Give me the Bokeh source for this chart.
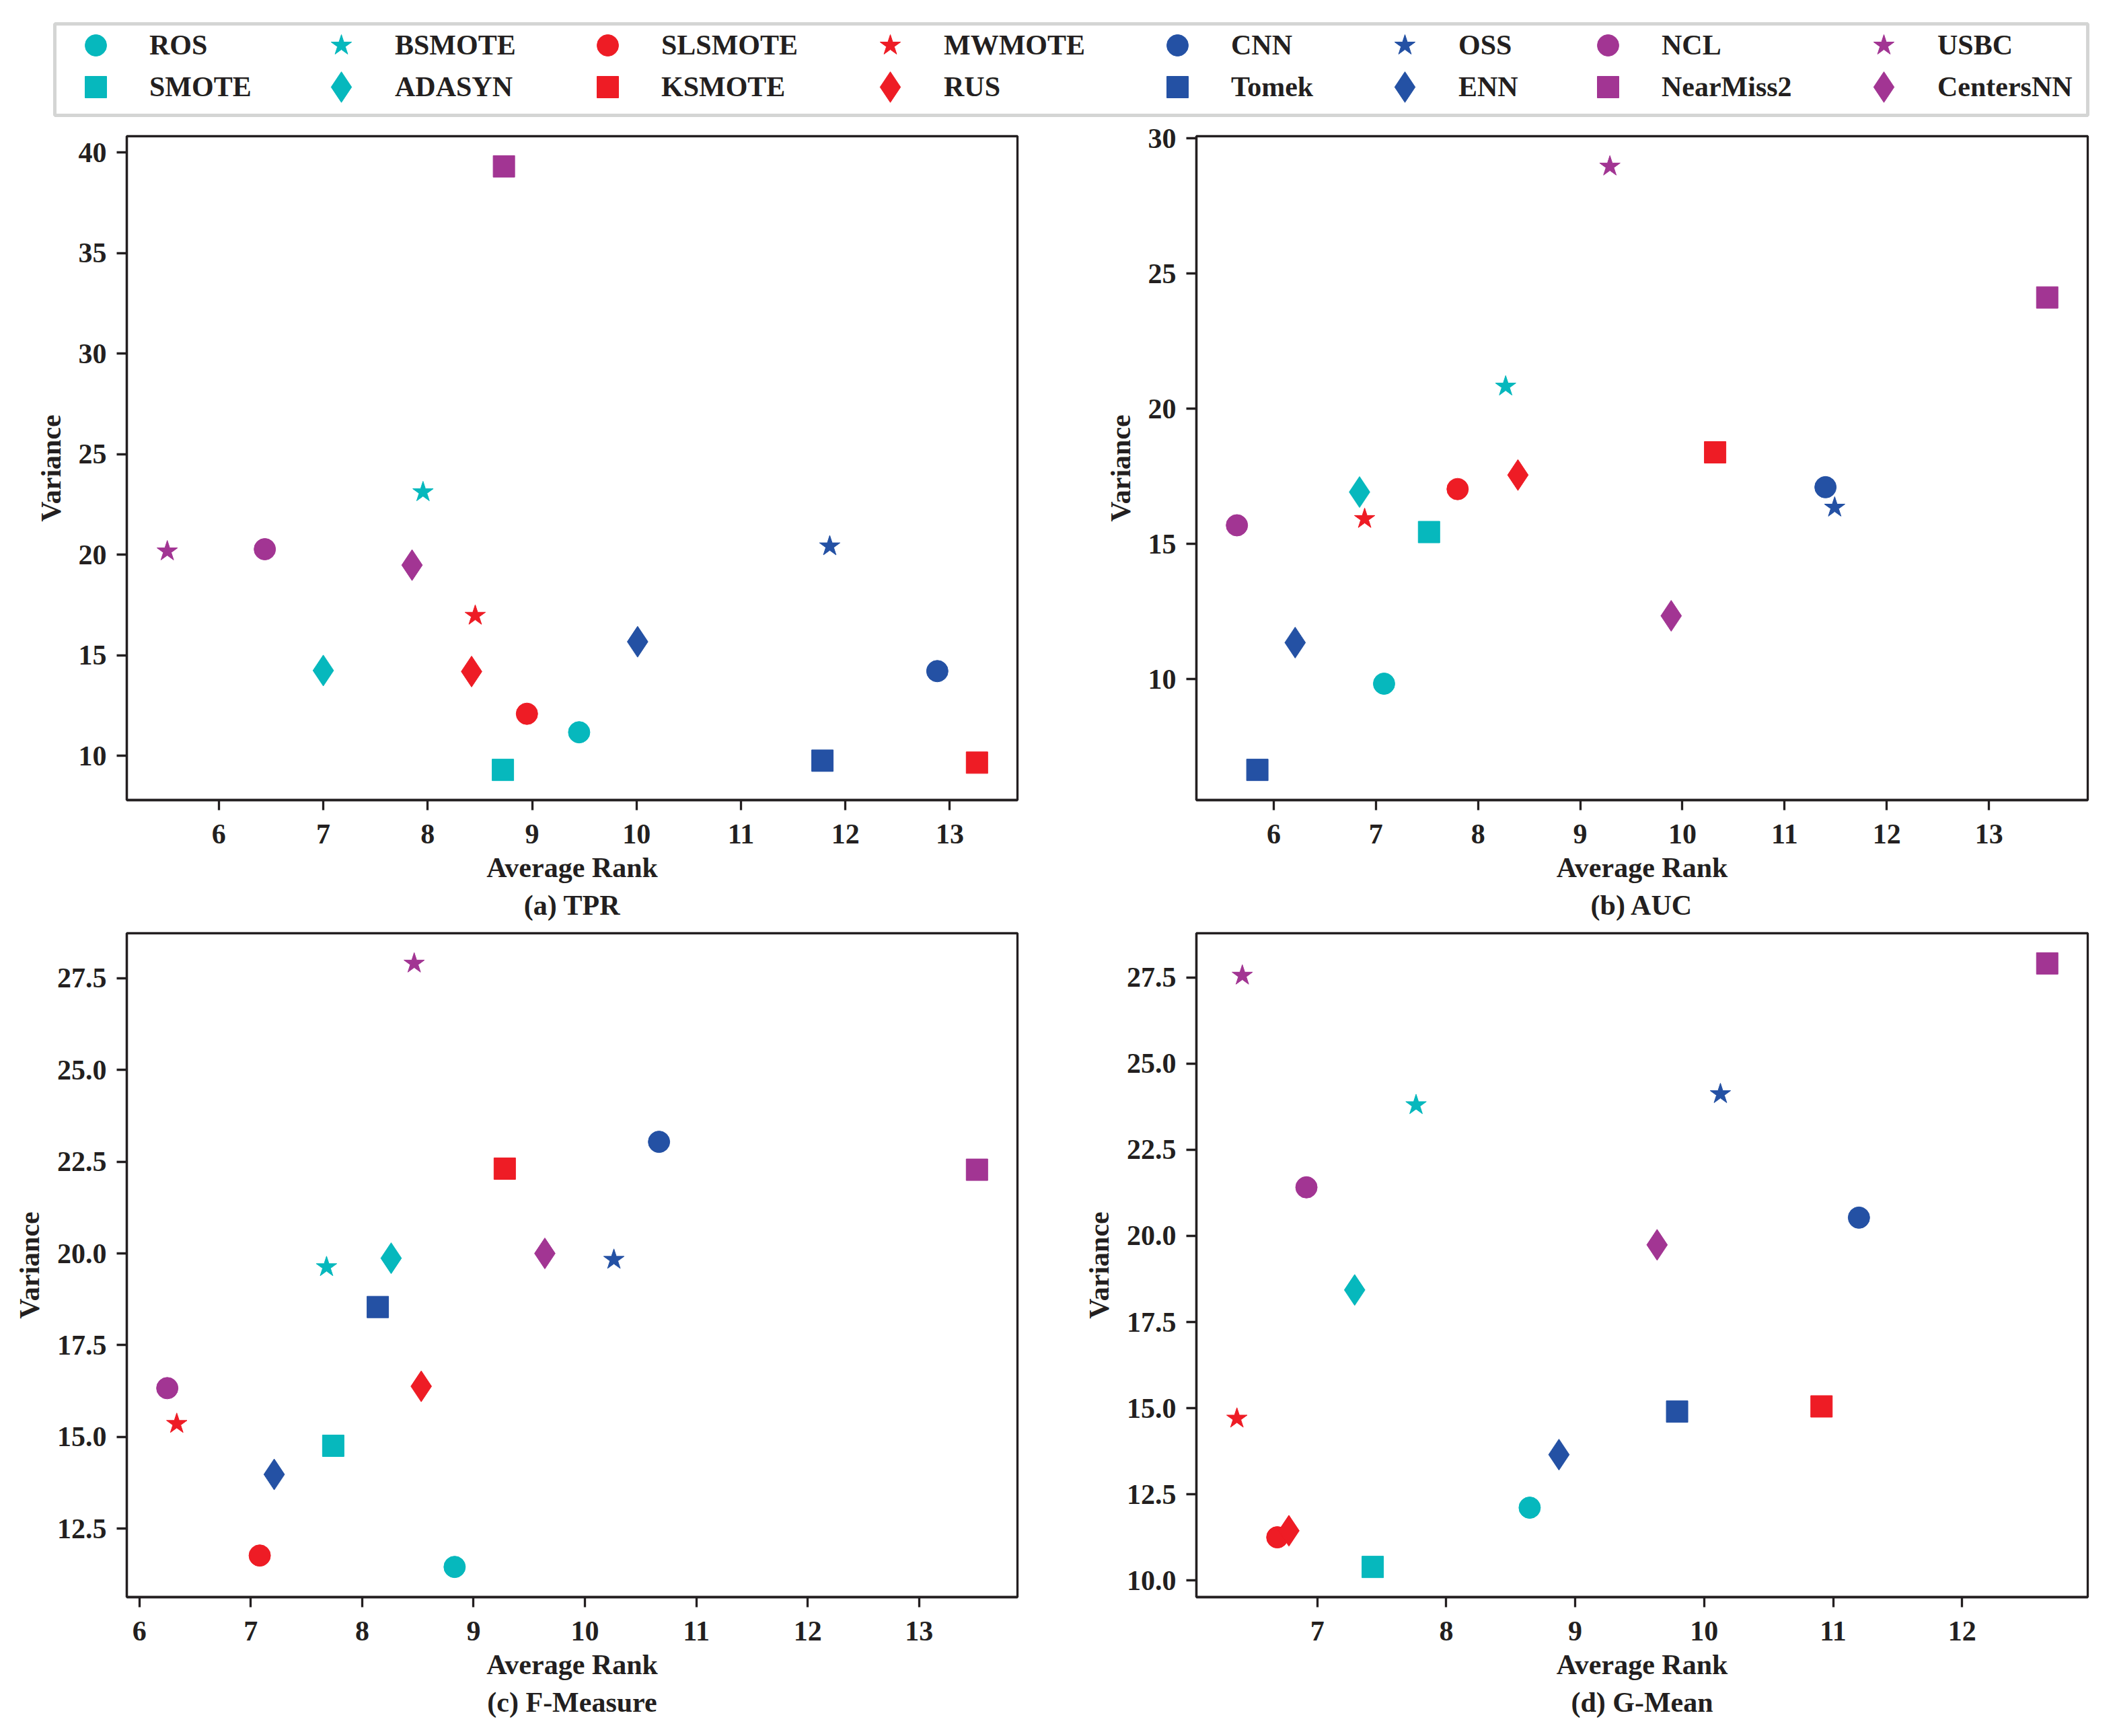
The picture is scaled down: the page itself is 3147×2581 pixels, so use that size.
from bokeh.plotting import figure
from bokeh.models import Range1d, FixedTicker, PrintfTickFormatter, Legend, LegendItem, Title, ColumnDataSource
from bokeh.layouts import column, row
from bokeh.embed import file_html
from bokeh.resources import INLINE

methods = ["ROS", "SMOTE", "BSMOTE", "ADASYN", "SLSMOTE", "KSMOTE", "MWMOTE", "RUS",
           "CNN", "Tomek", "OSS", "ENN", "NCL", "NearMiss2", "USBC", "CentersNN"]

tpr_rank = [9.45, 8.72, 7.955, 7.00, 8.95, 13.26, 8.455, 8.42,
            12.88, 11.78, 11.85, 10.01, 6.44, 8.73, 5.506, 7.85]
tpr_var = [11.18, 9.31, 23.12, 14.25, 12.10, 9.67, 16.98, 14.20,
           14.22, 9.77, 20.43, 15.68, 20.28, 39.31, 20.18, 19.49]

auc_rank = [7.08, 7.52, 8.27, 6.84, 7.80, 10.32, 6.89, 8.39,
            11.40, 5.84, 11.49, 6.21, 5.64, 13.57, 9.29, 9.89]
auc_var = [9.83, 15.44, 20.83, 16.92, 17.03, 18.39, 15.93, 17.55,
           17.10, 6.64, 16.35, 11.35, 15.69, 24.12, 28.97, 12.34]

fm_rank = [8.83, 7.74, 7.68, 8.26, 7.08, 9.28, 6.335, 8.53,
           10.665, 8.14, 10.26, 7.21, 6.25, 13.52, 8.467, 9.64]
fm_var = [11.46, 14.76, 19.63, 19.87, 11.77, 22.31, 15.36, 16.38,
          23.04, 18.54, 19.83, 13.98, 16.33, 22.28, 27.90, 20.00]

gm_rank = [8.647, 7.43, 7.766, 7.29, 6.69, 10.91, 6.377, 6.78,
           11.20, 9.79, 10.126, 8.874, 6.916, 12.66, 6.419, 9.635]
gm_var = [12.11, 10.39, 23.80, 18.43, 11.25, 15.05, 14.70, 11.44,
          20.53, 14.90, 24.12, 13.65, 21.41, 27.91, 27.56, 19.74]

x_ticks_abc = [6, 7, 8, 9, 10, 11, 12, 13]
x_ticks_d = [7, 8, 9, 10, 11, 12]
y_ticks_a = [10, 15, 20, 25, 30, 35, 40]
y_ticks_b = [10, 15, 20, 25, 30]
y_ticks_c = [12.5, 15.0, 17.5, 20.0, 22.5, 25.0, 27.5]
y_ticks_d = [10.0, 12.5, 15.0, 17.5, 20.0, 22.5, 25.0, 27.5]

subtitles = ["(a) TPR", "(b) AUC", "(c) F-Measure", "(d) G-Mean"]

# styles
CYAN, RED, BLUE, PURPLE = "#06B8BD", "#EE1C25", "#2451A4", "#A23593"
colors = [CYAN] * 4 + [RED] * 4 + [BLUE] * 4 + [PURPLE] * 4
markers = ["circle", "square", "star", "diamond"] * 4
SIZE = {"circle": 32, "square": 32, "star": 32, "diamond": 46}
LEG_BOX = {"circle": 80, "square": 80, "star": 80, "diamond": 114}
TXT = "#231F20"
FONT = "Liberation Serif"
FS = "42px"
LW = 3.3


def make_panel(xs, ys, xticks, yticks, yfmt, sub, left, right, top, bottom, fw):
    xmin, xmax = min(xs), max(xs)
    ymin, ymax = min(ys), max(ys)
    px = 0.05 * (xmax - xmin)
    py = 0.05 * (ymax - ymin)
    p = figure(frame_width=fw, frame_height=987,
               x_range=Range1d(xmin - px, xmax + px), y_range=Range1d(ymin - py, ymax + py),
               min_border_left=left, min_border_right=right,
               min_border_top=top, min_border_bottom=bottom,
               toolbar_location=None, output_backend="svg")
    src = ColumnDataSource(dict(x=xs, y=ys, color=colors, marker=markers,
                                size=[SIZE[m] for m in markers]))
    p.scatter("x", "y", source=src, marker="marker", size="size",
              fill_color="color", line_color="color", line_width=1)
    p.grid.visible = False
    p.outline_line_color = TXT
    p.outline_line_width = LW
    p.outline_line_alpha = 1
    p.background_fill_color = "white"
    p.border_fill_color = "white"
    p.xaxis.ticker = FixedTicker(ticks=xticks)
    p.yaxis.ticker = FixedTicker(ticks=yticks)
    p.xaxis.formatter = PrintfTickFormatter(format="%d")
    p.yaxis.formatter = PrintfTickFormatter(format=yfmt)
    p.xaxis.axis_label = "Average Rank"
    p.yaxis.axis_label = "Variance"
    for ax in (p.xaxis[0], p.yaxis[0]):
        ax.axis_line_color = TXT
        ax.axis_line_width = LW
        ax.major_tick_line_color = TXT
        ax.major_tick_line_width = LW
        ax.major_tick_out = 15
        ax.major_tick_in = 0
        ax.minor_tick_line_color = None
        ax.major_label_text_font = FONT
        ax.major_label_text_font_size = FS
        ax.major_label_text_font_style = "bold"
        ax.major_label_text_color = TXT
        ax.axis_label_text_font = FONT
        ax.axis_label_text_font_size = FS
        ax.axis_label_text_font_style = "bold"
        ax.axis_label_text_color = TXT
    p.xaxis.major_label_standoff = 21
    p.yaxis.major_label_standoff = 15
    p.xaxis.axis_label_standoff = 10
    p.yaxis.axis_label_standoff = 15
    t = Title(text=sub, align="center", text_font=FONT, text_font_size=FS,
              text_font_style="bold", text_color=TXT)
    p.add_layout(t, "below")
    return p


pa = make_panel(tpr_rank, tpr_var, x_ticks_abc, y_ticks_a, "%d", subtitles[0], 188, 88, 22, 191, 1324)
pb = make_panel(auc_rank, auc_var, x_ticks_abc, y_ticks_b, "%d", subtitles[1], 178, 30, 22, 191, 1325)
pc = make_panel(fm_rank, fm_var, x_ticks_abc, y_ticks_c, "%.1f", subtitles[2], 188, 88, 7, 194, 1324)
pd = make_panel(gm_rank, gm_var, x_ticks_d, y_ticks_d, "%.1f", subtitles[3], 178, 30, 7, 194, 1325)

# legend strip (frame = legend box)
leg = figure(frame_width=3022, frame_height=136, min_border_left=81, min_border_right=30,
             min_border_top=35, min_border_bottom=9,
             x_range=Range1d(0, 1), y_range=Range1d(0, 1),
             x_axis_location=None, y_axis_location=None,
             toolbar_location=None, output_backend="svg")
leg.grid.visible = False
leg.outline_line_color = "#D4D5D4"
leg.outline_line_width = 5
leg.border_fill_color = "white"

rends = []
for i, name in enumerate(methods):
    r = leg.scatter(x=[tpr_rank[i]], y=[tpr_var[i]], marker=markers[i], size=SIZE[markers[i]],
                    fill_color=colors[i], line_color=colors[i], line_width=1)
    rends.append(r)

legend_col_center = [61, 426, 822, 1242, 1669, 2007, 2309, 2719]
legend_row_center = [104, 42]
for i, name in enumerate(methods):
    c, k = divmod(i, 2)
    gh = LEG_BOX[markers[i]]
    gw = max(84, gh)
    lg = Legend(items=[LegendItem(label=name, renderers=[rends[i]])],
                orientation="vertical", glyph_width=gw, glyph_height=gh,
                padding=0, margin=0, spacing=0, label_standoff=80 - gw // 2,
                border_line_color=None,
                background_fill_alpha=0, label_text_font=FONT, label_text_font_size=FS,
                label_text_font_style="bold", label_text_color=TXT,
                location=(legend_col_center[c] - gw // 2, legend_row_center[k] - gh // 2))
    leg.add_layout(lg)

layout = column(leg, row(pa, pb), row(pc, pd))
open("out.html", "w").write(file_html(layout, INLINE))
